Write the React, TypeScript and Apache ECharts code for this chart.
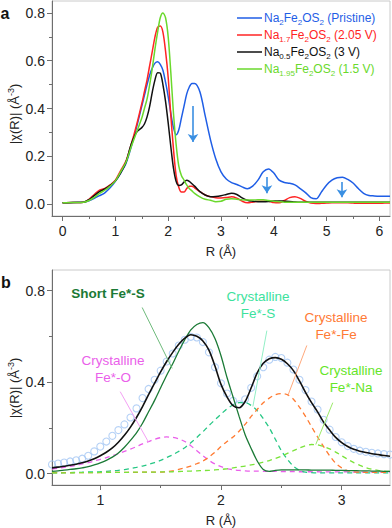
import React, { useEffect, useRef } from "react";
import * as echarts from "echarts";

// ---------- Panel a data ----------
const rA = [0, 0.2, 0.4, 0.5, 0.6, 0.7, 0.8, 0.9, 1.0, 1.1, 1.2, 1.3, 1.4, 1.5,
  1.55, 1.6, 1.65, 1.7, 1.75, 1.8, 1.85, 1.9, 1.95, 2.0, 2.05, 2.1, 2.15, 2.2, 2.25, 2.3, 2.35, 2.4, 2.45, 2.5,
  2.6, 2.7, 2.8, 2.9, 3.0, 3.1, 3.2, 3.3, 3.4, 3.5, 3.6, 3.7, 3.8, 3.9, 4.0, 4.1, 4.2, 4.3, 4.4, 4.5, 4.6, 4.7,
  4.8, 4.9, 5.0, 5.1, 5.2, 5.3, 5.4, 5.5, 5.6, 5.7, 5.8, 5.9, 6.0, 6.1, 6.2];

const pristine = [0.005, 0.007, 0.008, 0.014, 0.024, 0.035, 0.047, 0.068, 0.095, 0.13, 0.17, 0.24, 0.32, 0.41,
  0.455, 0.5, 0.54, 0.57, 0.59, 0.596, 0.585, 0.56, 0.51, 0.45, 0.38, 0.32, 0.29, 0.31, 0.36, 0.41, 0.46, 0.49, 0.505, 0.505,
  0.47, 0.37, 0.27, 0.19, 0.135, 0.105, 0.09, 0.082, 0.072, 0.064, 0.075, 0.1, 0.135, 0.147, 0.13, 0.1, 0.09, 0.087, 0.08, 0.065,
  0.048, 0.027, 0.022, 0.05, 0.08, 0.1, 0.11, 0.112, 0.103, 0.088, 0.065, 0.045, 0.036, 0.034, 0.033, 0.033, 0.033];

const v205 = [0.005, 0.006, 0.008, 0.02, 0.04, 0.058, 0.065, 0.08, 0.1, 0.14, 0.18, 0.25, 0.33, 0.42,
  0.47, 0.52, 0.58, 0.64, 0.7, 0.74, 0.745, 0.72, 0.64, 0.53, 0.37, 0.23, 0.12, 0.07, 0.05, 0.05, 0.065, 0.075, 0.075, 0.068,
  0.052, 0.038, 0.031, 0.026, 0.025, 0.027, 0.031, 0.025, 0.012, 0.005, 0.008, 0.012, 0.012, 0.012, 0.006, 0.005, 0.015, 0.027,
  0.031, 0.024, 0.012, 0.004, 0.002, 0.003, 0.004, 0.005, 0.005, 0.005, 0.005, 0.004, 0.003, 0.003, 0.003, 0.003, 0.003, 0.004, 0.004];

const v3 = [0.005, 0.006, 0.008, 0.018, 0.035, 0.052, 0.063, 0.078, 0.097, 0.13, 0.175, 0.25, 0.3, 0.32,
  0.335, 0.365, 0.41, 0.47, 0.52, 0.55, 0.548, 0.5, 0.43, 0.34, 0.24, 0.15, 0.095, 0.078, 0.08, 0.092, 0.1, 0.095, 0.085, 0.075,
  0.052, 0.038, 0.031, 0.032, 0.035, 0.04, 0.045, 0.04, 0.026, 0.016, 0.012, 0.01, 0.01, 0.011, 0.013, 0.013, 0.012, 0.011,
  0.009, 0.008, 0.008, 0.008, 0.008, 0.008, 0.008, 0.008, 0.008, 0.008, 0.008, 0.008, 0.008, 0.008, 0.008, 0.008, 0.008, 0.008, 0.008];

const v15 = [0.005, 0.006, 0.008, 0.015, 0.028, 0.045, 0.058, 0.075, 0.097, 0.135, 0.175, 0.24, 0.3, 0.36,
  0.4, 0.44, 0.5, 0.57, 0.65, 0.72, 0.78, 0.8, 0.78, 0.7, 0.55, 0.38, 0.25, 0.16, 0.12, 0.1, 0.08, 0.065, 0.055, 0.045,
  0.03, 0.02, 0.016, 0.01, 0.012, 0.02, 0.022, 0.02, 0.018, 0.017, 0.017, 0.018, 0.018, 0.015, 0.012, 0.01,
  0.008, 0.008, 0.008, 0.008, 0.008, 0.008, 0.008, 0.008, 0.008, 0.008, 0.008, 0.008, 0.008, 0.008, 0.008, 0.008, 0.008, 0.008, 0.008, 0.008, 0.008];

const legendLabels = [
  "{n|Na}{s|2}{n|Fe}{s|2}{n|OS}{s|2}{n| (Pristine)}",
  "{n|Na}{s|1.7}{n|Fe}{s|2}{n|OS}{s|2}{n| (2.05 V)}",
  "{n|Na}{s|0.5}{n|Fe}{s|2}{n|OS}{s|2}{n| (3 V)}",
  "{n|Na}{s|1.95}{n|Fe}{s|2}{n|OS}{s|2}{n| (1.5 V)}",
];

// arrows (R position, start value, end value)
const arrowR = [2.47, 3.87, 5.29];
const arrowFrom = [0.41, 0.113, 0.092];
const arrowTo = [0.26, 0.045, 0.028];

// ---------- Panel b data ----------
const rB = [0.6, 0.65, 0.7, 0.75, 0.8, 0.85, 0.9, 0.95, 1.0, 1.05, 1.1, 1.15, 1.2, 1.25, 1.3, 1.35, 1.4, 1.45, 1.5,
  1.55, 1.6, 1.65, 1.7, 1.75, 1.8, 1.85, 1.9, 1.95, 2.0, 2.05, 2.1, 2.15, 2.2, 2.25, 2.3, 2.35, 2.4, 2.45, 2.5,
  2.55, 2.6, 2.65, 2.7, 2.75, 2.8, 2.85, 2.9, 2.95, 3.0, 3.05, 3.1, 3.15, 3.2, 3.25, 3.3, 3.35, 3.4];

const expData = [0.04, 0.044, 0.048, 0.053, 0.058, 0.065, 0.078, 0.097, 0.118, 0.14, 0.165, 0.19, 0.215, 0.245, 0.285, 0.33, 0.37, 0.41, 0.45,
  0.49, 0.525, 0.56, 0.585, 0.598, 0.595, 0.575, 0.53, 0.465, 0.395, 0.35, 0.318, 0.303, 0.325, 0.375, 0.425, 0.465, 0.498, 0.51, 0.505,
  0.485, 0.455, 0.41, 0.365, 0.315, 0.28, 0.235, 0.192, 0.16, 0.137, 0.12, 0.108, 0.1, 0.095, 0.091, 0.088, 0.085, 0.083];

const fitLine = [0.025, 0.028, 0.032, 0.036, 0.041, 0.047, 0.055, 0.065, 0.078, 0.093, 0.112, 0.137, 0.167, 0.203, 0.245, 0.293, 0.345, 0.395, 0.445,
  0.49, 0.53, 0.565, 0.592, 0.607, 0.6, 0.58, 0.54, 0.47, 0.39, 0.335, 0.297, 0.288, 0.315, 0.375, 0.44, 0.482, 0.502, 0.507, 0.5,
  0.48, 0.45, 0.405, 0.355, 0.31, 0.27, 0.225, 0.19, 0.158, 0.135, 0.118, 0.106, 0.098, 0.092, 0.087, 0.083, 0.079, 0.076];

const shortFeS = [0.01, 0.012, 0.015, 0.018, 0.021, 0.025, 0.03, 0.038, 0.047, 0.058, 0.072, 0.09, 0.115, 0.145, 0.178, 0.22, 0.27, 0.32, 0.375,
  0.43, 0.48, 0.535, 0.585, 0.628, 0.652, 0.66, 0.638, 0.59, 0.515, 0.42, 0.335, 0.25, 0.17, 0.11, 0.055, 0.018, 0.01, 0.014, 0.016,
  0.016, 0.016, 0.016, 0.016, 0.015, 0.015, 0.015, 0.015, 0.014, 0.014, 0.013, 0.013, 0.012, 0.012, 0.011, 0.011, 0.01, 0.01];

const crysFeO = [0.02, 0.023, 0.027, 0.031, 0.036, 0.042, 0.048, 0.055, 0.062, 0.07, 0.078, 0.087, 0.097, 0.107, 0.118, 0.13, 0.14, 0.15, 0.157,
  0.16, 0.158, 0.152, 0.14, 0.122, 0.1, 0.078, 0.058, 0.042, 0.03, 0.022, 0.017, 0.014, 0.012, 0.011, 0.011, 0.01, 0.01, 0.01, 0.009,
  0.009, 0.009, 0.008, 0.008, 0.008, 0.008, 0.007, 0.007, 0.007, 0.007, 0.007, 0.006, 0.006, 0.006, 0.006, 0.006, 0.006, 0.006];

const crysFeS = [0.003, 0.003, 0.004, 0.004, 0.005, 0.006, 0.007, 0.007, 0.008, 0.01, 0.012, 0.014, 0.017, 0.022, 0.027, 0.033, 0.04, 0.048, 0.058,
  0.07, 0.082, 0.097, 0.113, 0.135, 0.158, 0.183, 0.21, 0.235, 0.26, 0.283, 0.3, 0.31, 0.31, 0.298, 0.275, 0.24, 0.2, 0.15, 0.1,
  0.062, 0.032, 0.014, 0.006, 0.004, 0.003, 0.003, 0.003, 0.003, 0.003, 0.003, 0.003, 0.003, 0.003, 0.003, 0.003, 0.003, 0.003];

const crysFeFe = [0.004, 0.004, 0.004, 0.004, 0.004, 0.004, 0.004, 0.004, 0.004, 0.005, 0.005, 0.005, 0.005, 0.005, 0.005, 0.006, 0.006, 0.006, 0.006,
  0.008, 0.012, 0.018, 0.025, 0.033, 0.043, 0.055, 0.072, 0.093, 0.118, 0.14, 0.16, 0.185, 0.215, 0.25, 0.28, 0.31, 0.33, 0.345, 0.35,
  0.345, 0.325, 0.29, 0.25, 0.205, 0.16, 0.118, 0.078, 0.045, 0.025, 0.013, 0.008, 0.006, 0.005, 0.005, 0.005, 0.005, 0.005];

const crysFeNa = [0.003, 0.003, 0.003, 0.003, 0.004, 0.004, 0.004, 0.004, 0.005, 0.005, 0.005, 0.005, 0.005, 0.006, 0.006, 0.006, 0.006, 0.006, 0.007,
  0.007, 0.008, 0.009, 0.01, 0.011, 0.012, 0.013, 0.014, 0.016, 0.018, 0.021, 0.025, 0.029, 0.033, 0.038, 0.043, 0.05, 0.057, 0.066, 0.076,
  0.088, 0.1, 0.112, 0.122, 0.127, 0.126, 0.118, 0.108, 0.094, 0.078, 0.062, 0.048, 0.036, 0.026, 0.019, 0.014, 0.011, 0.009];

// ---------- ticks ----------
const xTicksA = [0, 1, 2, 3, 4, 5, 6];
const xMinorA = [0.5, 1.5, 2.5, 3.5, 4.5, 5.5];
const yTicksA = [0, 0.2, 0.4, 0.6, 0.8];
const yMinorA = [0.1, 0.3, 0.5, 0.7];
const xTicksB = [1, 2, 3];
const xMinorB = [1.5, 2.5];
const yTicksB = [0, 0.4, 0.8];
const yMinorB = [0.2, 0.6];

// ---------- styling ----------
const FONT = '"Liberation Sans", Arial, Helvetica, sans-serif';
const AXIS = "#6e6e6e";
const TXT = "#222222";
const BLUE = "#1f5ee6";
const RED = "#ff2424";
const BLACK = "#111111";
const LGREEN = "#6ad92c";
const ARROW = "#3a8fe2";
const CIRCLE = "#a3c6f4";
const DKGREEN = "#1b7a36";
const MAGENTA = "#ea5fea";
const TEAL = "#26c784";
const ORANGE = "#ff7a30";
const NAGREEN = "#7ae33a";

const pairs = (xs: number[], ys: number[]) => xs.map((x, i) => [x, ys[i]]);

const majorX = (gi: number, min: number, max: number, ticks: number[]) => ({
  type: "value", gridIndex: gi, min, max, position: "bottom",
  axisLine: { show: true, onZero: false, lineStyle: { color: AXIS, width: 1 } },
  axisTick: { show: true, customValues: ticks, length: 5, lineStyle: { color: AXIS } },
  axisLabel: { show: true, customValues: ticks, fontSize: 14, color: TXT, margin: 8, fontFamily: FONT, formatter: (v: number) => String(v) },
  splitLine: { show: false },
  name: "R (Å)", nameLocation: "middle", nameGap: 29,
  nameTextStyle: { fontSize: 13, color: TXT, fontFamily: FONT },
});
const minorX = (gi: number, min: number, max: number, ticks: number[]) => ({
  type: "value", gridIndex: gi, min, max, position: "bottom",
  axisLine: { show: false, onZero: false },
  axisTick: { show: true, customValues: ticks, length: 3, lineStyle: { color: AXIS } },
  axisLabel: { show: false }, splitLine: { show: false },
});
const majorY = (gi: number, min: number, max: number, ticks: number[]) => ({
  type: "value", gridIndex: gi, min, max, position: "left",
  axisLine: { show: true, onZero: false, lineStyle: { color: AXIS, width: 1 } },
  axisTick: { show: true, customValues: ticks, length: 5, lineStyle: { color: AXIS } },
  axisLabel: { show: true, customValues: ticks, fontSize: 14, color: TXT, margin: 7, fontFamily: FONT, formatter: (v: number) => v.toFixed(1) },
  splitLine: { show: false },
});
const minorY = (gi: number, min: number, max: number, ticks: number[]) => ({
  type: "value", gridIndex: gi, min, max, position: "left",
  axisLine: { show: false, onZero: false },
  axisTick: { show: true, customValues: ticks, length: 3, lineStyle: { color: AXIS } },
  axisLabel: { show: false }, splitLine: { show: false },
});

const lineA = (data: number[], color: string, extra: any = {}) => ({
  type: "line", xAxisIndex: 0, yAxisIndex: 0, data: pairs(rA, data),
  showSymbol: false, smooth: 0.3, lineStyle: { color, width: 1.5 }, itemStyle: { color },
  ...extra,
});

const leader = (pts: number[][], color: string) => ({
  silent: true, symbol: ["none", "none"], label: { show: false },
  lineStyle: { color, width: 1, type: "solid" },
  data: [[{ coord: pts[0] }, { coord: pts[1] }]],
});

const lineB = (data: number[], color: string, dashed: boolean, pts: number[][] | null, leaderColor: string, width = 1.3) => ({
  type: "line", xAxisIndex: 1, yAxisIndex: 1, data: pairs(rB, data),
  showSymbol: false, smooth: 0.3,
  lineStyle: { color, width, type: dashed ? [5, 4] : "solid" }, itemStyle: { color },
  ...(pts ? { markLine: leader(pts, leaderColor) } : {}),
});

const legendColors = [BLUE, RED, BLACK, LGREEN];
const legendGraphics: any[] = [];
legendColors.forEach((c, i) => {
  const y = 18 + i * 17;
  legendGraphics.push({ type: "line", shape: { x1: 237, y1: y, x2: 262, y2: y }, style: { stroke: c, lineWidth: 1.5 } });
  legendGraphics.push({
    type: "text", x: 264, y,
    style: {
      text: legendLabels[i], verticalAlign: "middle", align: "left",
      rich: {
        n: { fontSize: 12, fill: c, fontFamily: FONT, lineHeight: 16 },
        s: { fontSize: 8, fill: c, fontFamily: FONT, lineHeight: 8, verticalAlign: "bottom" },
      },
    },
  });
});

const yName = (x: number, y: number) => ({
  type: "text", x, y, rotation: Math.PI / 2,
  style: {
    text: "{n||χ(R)| (Å}{p|-3}{n|)}", align: "center", verticalAlign: "middle",
    rich: {
      n: { fontSize: 13, fill: TXT, fontFamily: FONT, lineHeight: 16 },
      p: { fontSize: 9, fill: TXT, fontFamily: FONT, lineHeight: 8, verticalAlign: "top" },
    },
  },
});

const label = (x: number, y: number, text: string, color: string, bold = false) => ({
  type: "text", x, y,
  style: { text, fill: color, fontSize: 13.5, fontFamily: FONT, fontWeight: bold ? "bold" : "normal", align: "center", verticalAlign: "middle", lineHeight: 17 },
});

const option: any = {
  animation: false,
  backgroundColor: "#ffffff",
  grid: [
    { left: 52, top: 1, width: 338, height: 215, show: true, borderColor: "#cacaca", borderWidth: 1 },
    { left: 52, top: 270, width: 338, height: 215, show: true, borderColor: "#cacaca", borderWidth: 1 },
  ],
  xAxis: [
    majorX(0, -0.2, 6.2, xTicksA), majorX(1, 0.6, 3.4, xTicksB),
    minorX(0, -0.2, 6.2, xMinorA), minorX(1, 0.6, 3.4, xMinorB),
  ],
  yAxis: [
    majorY(0, -0.05, 0.85, yTicksA), majorY(1, -0.05, 0.89, yTicksB),
    minorY(0, -0.05, 0.85, yMinorA), minorY(1, -0.05, 0.89, yMinorB),
  ],
  series: [
    lineA(pristine, BLUE, {
      markLine: {
        silent: true, symbol: ["none", "arrow"], symbolSize: 8, label: { show: false },
        lineStyle: { color: ARROW, width: 1.6, type: "solid" },
        data: arrowR.map((r, i) => [{ coord: [r, arrowFrom[i]] }, { coord: [r, arrowTo[i]] }]),
      },
    }),
    lineA(v205, RED),
    lineA(v3, BLACK),
    lineA(v15, LGREEN),
    {
      type: "scatter", xAxisIndex: 1, yAxisIndex: 1, data: pairs(rB, expData),
      symbol: "circle", symbolSize: 7,
      itemStyle: { color: "rgba(255,255,255,0)", borderColor: CIRCLE, borderWidth: 1.1 },
    },
    lineB(crysFeO, MAGENTA, true, [[1.165, 0.358], [1.397, 0.14]], "#f4a0f4"),
    lineB(crysFeS, TEAL, true, [[2.38, 0.625], [2.264, 0.293]], "#92efc6"),
    lineB(crysFeFe, ORANGE, true, [[2.711, 0.56], [2.554, 0.341]], "#ffa97c"),
    lineB(crysFeNa, NAGREEN, true, [[2.926, 0.31], [2.785, 0.127]], "#9bea6a"),
    lineB(shortFeS, DKGREEN, false, [[1.347, 0.726], [1.595, 0.46]], "#6fbb7c", 1.3),
    lineB(fitLine, BLACK, false, null, "", 1.6),
  ],
  graphic: [
    { type: "text", x: 5, y: 13, style: { text: "a", fill: "#111", fontSize: 16, fontWeight: "bold", fontFamily: FONT, align: "center", verticalAlign: "middle" } },
    { type: "text", x: 6, y: 282, style: { text: "b", fill: "#111", fontSize: 16, fontWeight: "bold", fontFamily: FONT, align: "center", verticalAlign: "middle" } },
    yName(14, 114),
    yName(14, 388),
    ...legendGraphics,
    label(108, 293, "Short Fe*-S", DKGREEN, true),
    label(113, 369, "Crystalline\nFe*-O", "#ea5fea"),
    label(258, 305, "Crystalline\nFe*-S", "#3de29d"),
    label(336, 325.5, "Crystalline\nFe*-Fe", "#ff7a35"),
    label(351, 378.5, "Crystalline\nFe*-Na", "#66e52a"),
  ],
};

export default function App() {
  const ref = useRef<HTMLDivElement>(null);
  useEffect(() => {
    if (!ref.current) return;
    const chart = echarts.init(ref.current, null, { renderer: "svg" });
    chart.setOption(option);
    return () => chart.dispose();
  }, []);
  return (
    <div
      ref={ref}
      style={{ position: "fixed", left: 0, top: 0, width: 392, height: 528, background: "#fff" }}
    />
  );
}
